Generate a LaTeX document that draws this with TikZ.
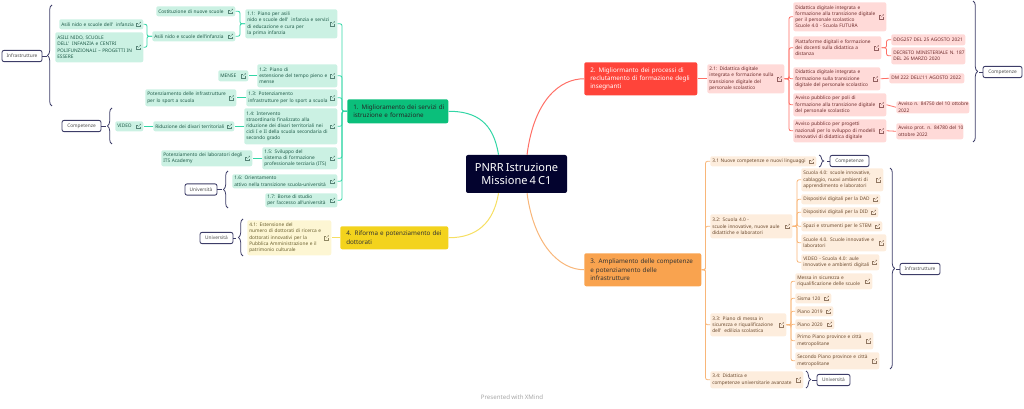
\documentclass[tikz,border=0pt]{standalone}
\usepackage{fontspec}
\setmainfont[WordSpace=.75]{Noto Sans}
\usetikzlibrary{decorations.pathreplacing}
\definecolor{rootNavy}{HTML}{03032E}
\definecolor{braceDark}{HTML}{3D3D68}
\definecolor{greenMain}{HTML}{0BBF7B}
\definecolor{greenLeaf}{HTML}{CBF1E3}
\definecolor{greenLine}{HTML}{33D6A6}
\definecolor{greenText}{HTML}{1E5A48}
\definecolor{redMain}{HTML}{FF443A}
\definecolor{redLeaf}{HTML}{FFDAD8}
\definecolor{redLine}{HTML}{FF6F66}
\definecolor{redText}{HTML}{6E2B2B}
\definecolor{orangeMain}{HTML}{F9A34F}
\definecolor{orangeLeaf}{HTML}{FDEDDD}
\definecolor{orangeLine}{HTML}{F8B679}
\definecolor{orangeText}{HTML}{6B4A2E}
\definecolor{yellowMain}{HTML}{F3D31D}
\definecolor{yellowLeaf}{HTML}{FDF6D3}
\definecolor{yellowLine}{HTML}{F6DF62}
\definecolor{yellowText}{HTML}{6A5F2E}
\tikzset{
  wh/.style 2 args={minimum width=#1*.75pt, minimum height=#2*.75pt, text width=#1*.75pt-3pt},
  item/.style={anchor=north west, rounded corners=1.5pt, inner xsep=1.5pt, inner ysep=0pt,
    align=left, font=\fontsize{3.6}{4.65}\selectfont},
  gleaf/.style={item, fill=greenLeaf, text=greenText},
  rleaf/.style={item, fill=redLeaf, text=redText},
  oleaf/.style={item, fill=orangeLeaf, text=orangeText},
  yleaf/.style={item, fill=yellowLeaf, text=yellowText},
  mainbox/.style={item, inner xsep=4.5pt, text width=#1*.75pt-9pt, minimum width=#1*.75pt,
    font=\fontsize{4.7}{6.2}\selectfont},
  tagbox/.style={draw=braceDark, line width=.65pt, fill=white, rounded corners=1.5pt, text=black!70,
    minimum width=#1*.75pt, minimum height=8.4pt, inner sep=0pt, font=\fontsize{3.6}{4.65}\selectfont},
  gline/.style={draw=greenLine, line width=.6pt, rounded corners=1.5pt},
  rline/.style={draw=redLine, line width=.6pt, rounded corners=1.5pt},
  oline/.style={draw=orangeLine, line width=.6pt, rounded corners=1.5pt},
  yline/.style={draw=yellowLine, line width=.6pt, rounded corners=1.5pt},
  bline/.style={draw=braceDark, line width=.6pt},
  bracket/.style={bline, decorate, decoration={brace, amplitude=#1}},
  lnk/.pic={
    \draw[#1!75, line width=.22pt] (-.3pt,1.1pt) -- (-1.7pt,1.1pt) -- (-1.7pt,-1.7pt) -- (1.1pt,-1.7pt) -- (1.1pt,-.3pt);
    \draw[#1!75, line width=.22pt] (-.3pt,-.3pt) -- (1.7pt,1.7pt) (.8pt,1.7pt) -- (1.7pt,1.7pt) -- (1.7pt,.8pt);
  },
}
\begin{document}
\begin{tikzpicture}[x=.75pt, y=-.75pt]
  \useasboundingbox (0,0) rectangle (1024,409);
  % centre
  \node[fill=rootNavy, text=white, rounded corners=1.5pt, minimum width=75.75pt, minimum height=28.5pt,
        inner sep=0pt, align=center, font=\fontsize{8.3}{10.4}\selectfont] (root) at (516.5,174)
    {PNRR Istruzione\\Missione 4 C1};
  \node[mainbox=101, fill=greenMain, text=black!85, minimum height=18pt] (m1) at (347,99)
    {\mbox{1. Miglioramento dei servizi di}\\istruzione e formazione};
  \node[mainbox=113, fill=redMain, text=white, minimum height=24.75pt] (m2) at (584,62)
    {\mbox{2. Migliormanto dei processi di}\\\mbox{reclutamento di formazione degli}\\insegnanti};
  \node[mainbox=117, fill=orangeMain, text=black!80, minimum height=24.75pt] (m3) at (584,253)
    {\mbox{3. Ampliamento delle competenze}\\e potenziamento delle\\infrastrutture};
  \node[mainbox=108, fill=yellowMain, text=black!80, minimum height=17.25pt] (m4) at (340,226)
    {\mbox{4. Riforma e potenziamento dei}\\dottorati};
  % ramo 1
  \node[gleaf, wh={92}{29}] (a11) at (245,9)
    {1.1: Piano per asili\\nido e scuole dell'\ \ infanzia e servizi\\di educazione e cura per\\la prima infanzia};
  \node[gleaf, wh={80}{23}] (a12) at (257,64) {1.2: Piano di\\estensione del tempo pieno e\\mense};
  \node[gleaf, wh={91}{17}] (a13) at (246,89) {1.3: Potenziamento\\infrastrutture per lo sport a scuola};
  \node[gleaf, wh={93}{36}] (a14) at (244,108)
    {1.4: Intervento\\straordinario finalizzato alla\\riduzione dei divari territoriali nei\\cicli I e II della scuola secondaria di\\secondo grado};
  \node[gleaf, wh={75}{22}] (a15) at (262,147) {1.5: Sviluppo del\\sistema di formazione\\professionale terziaria (ITS)};
  \node[gleaf, wh={105}{14}] (a16) at (232,174) {1.6: Orientamento\\attivo nella transizione scuola-università};
  \node[gleaf, wh={72}{14}] (a17) at (265,193) {1.7: Borse di studio\\per l'accesso all'università};
  \node[gleaf, wh={79}{10}] (cost) at (156,6) {Costituzione di nuove scuole};
  \node[gleaf, wh={83}{10}] (asilo) at (152,31) {Asili nido e scuole dell'infanzia};
  \node[gleaf, wh={84}{10}] (asleaf) at (59,19) {Asili nido e scuole dell'\ \ infanzia};
  \node[gleaf, wh={88}{30}] (aspro) at (55,32)
    {ASILI NIDO, SCUOLE\\DELL'\ \ INFANZIA e CENTRI\\\mbox{POLIFUNZIONALI – PROGETTI IN}\\ESSERE};
  \node[gleaf, wh={30}{11}] (mense) at (218,70) {MENSE};
  \node[gleaf, wh={91}{17}] (potsport) at (145,89) {Potenziamento delle infrastrutture\\per lo sport a scuola};
  \node[gleaf, wh={81}{10}] (divari) at (153,121) {Riduzione dei divari territoriali};
  \node[gleaf, wh={28}{10}] (video) at (115,121) {VIDEO};
  \node[gleaf, wh={91}{16}] (potlab) at (161,150) {Potenziamento dei laboratori degli\\ITS Academy};
  % ramo 4
  \node[yleaf, wh={84}{35}] (y41) at (247,220)
    {4.1: Estensione del\\numero di dottorati di ricerca e\\dottorati innovativi per la\\Pubblica Amministrazione e il\\patrimonio culturale};
  % ramo 2
  \node[rleaf, wh={77}{29}] (r21) at (707,64)
    {2.1: Didattica digitale\\integrata e formazione sulla\\transizione digitale del\\personale scolastico};
  \node[rleaf, wh={93}{29}] (rddi) at (793,2)
    {Didattica digitale integrata e\\formazione alla transizione digitale\\per il personale scolastico\\Scuole 4.0 - Scuola FUTURA};
  \node[rleaf, wh={88}{23}] (rpiat) at (793,36)
    {Piattaforme digitali e formazione\\dei docenti sulla didattica a\\distanza};
  \node[rleaf, wh={87}{23}] (rtrans) at (793,67)
    {Didattica digitale integrata e\\formazione sulla transizione\\digitale del personale scolastico};
  \node[rleaf, wh={93}{23}] (rpoli) at (793,93)
    {Avviso pubblico per poli di\\formazione alla transizione digitale\\del personale scolastico};
  \node[rleaf, wh={93}{23}] (rprog) at (793,119)
    {Avviso pubblico per progetti\\nazionali per lo sviluppo di modelli\\innovativi di didattica digitale};
  \node[rleaf, wh={74}{11}] (rddg) at (891,34) {\mbox{DDG257 DEL 25 AGOSTO 2021}};
  \node[rleaf, wh={74}{17}] (rdecr) at (891,47) {\mbox{DECRETO MINISTERIALE N. 187}\\DEL 26 MARZO 2020};
  \node[rleaf, wh={75}{10}] (rdm) at (889,73) {\mbox{DM 222 DELL'11 AGOSTO 2022}};
  \node[rleaf, wh={73}{12}] (rav1) at (896,101) {\mbox{Avviso n. 84750 del 10 ottobre}\\2022};
  \node[rleaf, wh={67}{16}] (rav2) at (896,123) {\mbox{Avviso prot. n. 84780 del 10}\\ottobre 2022};
  % ramo 3
  \node[oleaf, wh={106}{10}] (o31) at (710,156) {3.1 Nuove competenze e nuovi linguaggi};
  \node[oleaf, wh={82}{24}] (o32) at (710,214) {3.2: Scuola 4.0 -\\scuole innovative, nuove aule\\didattiche e laboratori};
  \node[oleaf, wh={76}{23}] (o33) at (710,313) {3.3: Piano di messa in\\sicurezza e riqualificazione\\dell'\ \ edilizia scolastica};
  \node[oleaf, wh={93}{17}] (o34) at (710,371) {3.4: Didattica e\\competenze universitarie avanzate};
  \node[oleaf, wh={82}{23}] (os1) at (801,168) {Scuola 4.0: scuole innovative,\\cablaggio, nuovi ambienti di\\apprendimento e laboratori};
  \node[oleaf, wh={79}{10}] (os2) at (801,194) {Dispositivi digitali per la DAD};
  \node[oleaf, wh={77}{10}] (os3) at (801,207) {Dispositivi digitali per la DID};
  \node[oleaf, wh={81}{10}] (os4) at (801,221) {Spazi e strumenti per le STEM};
  \node[oleaf, wh={85}{17}] (os5) at (801,234) {Scuole 4.0. Scuole innovative e\\laboratori};
  \node[oleaf, wh={78}{16}] (os6) at (801,254) {VIDEO - Scuola 4.0: aule\\innovative e ambienti digitali};
  \node[oleaf, wh={77}{16}] (op1) at (795,273) {Messa in sicurezza e\\riqualificazione delle scuole};
  \node[oleaf, wh={36}{10}] (op2) at (795,293) {Sisma 120};
  \node[oleaf, wh={38}{10}] (op3) at (795,306) {Piano 2019};
  \node[oleaf, wh={39}{10}] (op4) at (795,319) {Piano 2020};
  \node[oleaf, wh={78}{17}] (op5) at (795,332) {Primo Piano province e città\\metropolitane};
  \node[oleaf, wh={84}{17}] (op6) at (795,352) {Secondo Piano province e città\\metropolitane};
  % etichette
  \node[tagbox=40] (tinf1) at (22,56) {Infrastrutture};
  \node[tagbox=39] (tcom1) at (81.5,126) {Competenze};
  \node[tagbox=32] (tuni1) at (201,189.5) {Università};
  \node[tagbox=33] (tuni2) at (216.5,238) {Università};
  \node[tagbox=39] (tcom2) at (1002.5,72) {Competenze};
  \node[tagbox=39] (tcom3) at (849.5,161) {Competenze};
  \node[tagbox=40] (tinf2) at (920,269) {Infrastrutture};
  \node[tagbox=33] (tuni3) at (833.5,380) {Università};
  \node[text=black!35, font=\fontsize{4.6}{6}\selectfont] (xm) at (512,397) {Presented with XMind};
  % rami dal centro
  \draw[greenLine, line width=.75pt] ([xshift=-13.5pt]root.north) .. controls +(-5,-32) and +(28,0) .. (m1.east);
  \draw[yellowLine, line width=.75pt] ([xshift=-13.5pt]root.south) .. controls +(-5,30) and +(28,0) .. (m4.east);
  \draw[redLine, line width=.75pt] ([xshift=7.9pt]root.north) .. controls +(7,-55) and +(-24,0) .. (m2.west);
  \draw[orangeLine, line width=.75pt] ([xshift=7.9pt]root.south) .. controls +(7,52) and +(-24,0) .. (m3.west);
  % connettori
  \foreach \n in {a11,a12,a13,a14,a15,a16,a17}
    \draw[gline] (m1.west) -- ++(-5,0) |- (\n.east);
  \foreach \n in {cost,asilo}
    \draw[gline] (a11.west) -- ++(-5,0) |- (\n.east);
  \foreach \n in {asleaf,aspro}
    \draw[gline] (asilo.west) -- ++(-5,0) |- (\n.east);
  \draw[gline] (a12.west) -- (mense.east);
  \draw[gline] (a13.west) -- (potsport.east);
  \draw[gline] (a14.west) -- (divari.east);
  \draw[gline] (divari.west) -- (video.east);
  \draw[gline] (a15.west) -- (potlab.east);
  \draw[yline] (m4.west) -- (y41.east);
  \draw[rline] (m2.east) -- (r21.west);
  \foreach \n in {rddi,rpiat,rtrans,rpoli,rprog}
    \draw[rline] (r21.east) -- ++(4.5,0) |- (\n.west);
  \foreach \n in {rddg,rdecr}
    \draw[rline] (rpiat.east) -- ++(5,0) |- (\n.west);
  \draw[rline] (rtrans.east) -- (rdm.west);
  \draw[rline] (rpoli.east) -- (rav1.west);
  \draw[rline] (rprog.east) -- (rav2.west);
  \foreach \n in {o31,o32,o33,o34}
    \draw[oline] (m3.east) -- ++(4,0) |- (\n.west);
  \foreach \n in {os1,os2,os3,os4,os5,os6}
    \draw[oline] (o32.east) -- ++(4.5,0) |- (\n.west);
  \foreach \n in {op1,op2,op3,op4,op5,op6}
    \draw[oline] (o33.east) -- ++(4.5,0) |- (\n.west);
  % graffe
  \draw[bracket=3.5pt] (52,106) -- (52,5);
  \draw[bracket=3.5pt] (112,144) -- (112,108);
  \draw[bracket=3.5pt] (228,208) -- (228,171);
  \draw[bracket=3.5pt] (243,256) -- (243,219);
  \draw[bracket=3.5pt] (973,1) -- (973,142);
  \draw[bracket=3.5pt] (819,155) -- (819,167);
  \draw[bracket=3.5pt] (890,168) -- (890,369);
  \draw[bracket=3.5pt] (806,371) -- (806,388);
  \draw[bline] (tinf1.east) -- ++(5,0);
  \draw[bline] (tcom1.east) -- ++(5,0);
  \draw[bline] (tuni1.east) -- ++(5,0);
  \draw[bline] (tuni2.east) -- ++(3,0);
  \draw[bline] (tcom2.west) -- ++(-4,0);
  \draw[bline] (tcom3.west) -- ++(-3,0);
  \draw[bline] (tinf2.west) -- ++(-4,0);
  \draw[bline] (tuni3.west) -- ++(-5,0);
  % icone link
  \foreach \n in {a11,a12,a13,a14,a15,a16,a17,cost,asilo,asleaf,aspro,mense,potsport,divari,video,potlab}
    \pic at ([xshift=-3.8pt]\n.east) {lnk=greenText};
  \foreach \n in {r21,rddi,rpiat,rtrans,rpoli,rprog}
    \pic at ([xshift=-3.8pt]\n.east) {lnk=redText};
  \foreach \n in {o31,o32,o33,o34,os1,os2,os3,os4,os5,os6,op1,op2,op3,op4,op5,op6}
    \pic at ([xshift=-3.8pt]\n.east) {lnk=orangeText};
  \pic at ([xshift=-3.8pt]y41.east) {lnk=yellowText};
\end{tikzpicture}
\end{document}
